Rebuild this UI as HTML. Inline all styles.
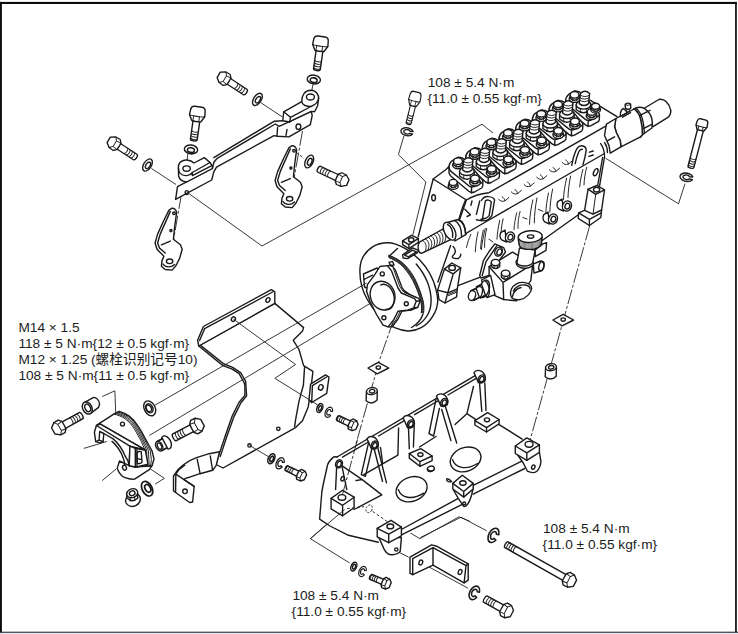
<!DOCTYPE html>
<html><head><meta charset="utf-8">
<style>
html,body{margin:0;padding:0;background:#fff;}
body{width:738px;height:634px;overflow:hidden;position:relative;font-family:"Liberation Sans","Noto Sans CJK SC",sans-serif;}
svg{position:absolute;left:0;top:0;}
.t{font-size:13.7px;fill:#1c1c1c;font-family:"Liberation Sans","Noto Sans CJK SC",sans-serif;}
.o{fill:none;stroke:#1a1a1a;stroke-width:1.4;stroke-linejoin:round;stroke-linecap:round;}
.w{fill:#fff;stroke:#1a1a1a;stroke-width:1.4;stroke-linejoin:round;stroke-linecap:round;}
.l{fill:none;stroke:#222;stroke-width:0.9;}
.d{fill:none;stroke:#222;stroke-width:0.9;stroke-dasharray:15 2 3 2;}
.h{fill:none;stroke:#1a1a1a;stroke-width:0.95;stroke-linecap:round;}
</style></head><body>
<svg width="738" height="634" viewBox="0 0 738 634">
<defs>
<!-- bolt: axis +x, origin at head back -->
<g id="bolt">
 <path class="w" d="M8,-3.6 L30,-3.6 A1.6,3.6 0 0 1 30,3.6 L8,3.6 Z"/>
 <path class="h" d="M19,-3.4 A1.5,3.5 0 0 1 19,3.4 M21.7,-3.4 A1.5,3.5 0 0 1 21.7,3.4 M24.4,-3.4 A1.5,3.5 0 0 1 24.4,3.4 M27.1,-3.4 A1.5,3.5 0 0 1 27.1,3.4"/>
 <path class="w" d="M1.5,-7 L6,-7.4 L8.5,-5 L9,0 L8.5,5 L6,7.4 L1.5,7 L0,3.5 L0,-3.5 Z"/>
 <path class="h" d="M2.6,-7 L4,-3.6 L4,3.6 L2.6,7 M6,-7.4 L7,-3.6 L7,3.6 L6,7.4"/>
</g>
<g id="boltv">
 <path class="w" d="M14,-3.4 L33,-3.4 A1.4,3.4 0 0 1 33,3.4 L14,3.4 Z"/>
 <path class="h" d="M24.5,-3.2 A1.4,3.3 0 0 1 24.5,3.2 M27,-3.2 A1.4,3.3 0 0 1 27,3.2 M29.5,-3.2 A1.4,3.3 0 0 1 29.5,3.2 M32,-3.2 A1.4,3.3 0 0 1 32,3.2"/>
 <path class="w" d="M3.5,-7.3 Q0,-7 0,-3.5 L0,3.5 Q0,7 3.5,7.3 L9,7.7 L14.5,4.6 Q15.5,0 14.5,-4.6 L9,-7.7 Z"/>
 <path class="h" d="M9,-7.7 Q10.2,-4 9.6,-2.5 L14.8,-2.4 M9.6,-2.5 Q10,0 9.6,3.5 L14.6,3.6 M9.6,3.5 Q9.8,6 9,7.7"/>
</g>
<g id="washer">
 <ellipse class="w" cx="0" cy="0" rx="3.8" ry="6.8"/>
 <ellipse class="o" cx="0.6" cy="0" rx="2" ry="3.6"/>
</g>
<!-- bolt with fuller head (seen more face-on) -->
<g id="boltf">
 <path class="w" d="M9,-3.6 L30,-3.6 A1.6,3.6 0 0 1 30,3.6 L9,3.6 Z"/>
 <path class="h" d="M19,-3.4 A1.5,3.5 0 0 1 19,3.4 M21.7,-3.4 A1.5,3.5 0 0 1 21.7,3.4 M24.4,-3.4 A1.5,3.5 0 0 1 24.4,3.4 M27.1,-3.4 A1.5,3.5 0 0 1 27.1,3.4"/>
 <path class="w" d="M3,-7 L8,-7.2 L10.6,-4.2 L10.8,0 L10.6,4.2 L8,7.2 L3,7 L-1.4,3.6 L-1.6,-3.4 Z"/>
 <path class="h" d="M3,-7 L5.6,-3.6 L5.8,3.6 L3,7 M5.6,-3.6 L10.6,-4.2 M5.8,3.6 L10.6,4.2"/>
</g>
<!-- small bolt -->
<g id="bolts">
 <path class="w" d="M6,-2.7 L20,-2.7 A1.2,2.7 0 0 1 20,2.7 L6,2.7 Z"/>
 <path class="h" d="M12.6,-2.6 A1.2,2.6 0 0 1 12.6,2.6 M14.8,-2.6 A1.2,2.6 0 0 1 14.8,2.6 M17,-2.6 A1.2,2.6 0 0 1 17,2.6 M19.2,-2.6 A1.2,2.6 0 0 1 19.2,2.6"/>
 <path class="w" d="M2,-5.4 L6,-5.6 L7.6,-3.4 L7.8,0 L7.6,3.4 L6,5.6 L2,5.4 L-0.8,2.8 L-0.9,-2.6 Z"/>
 <path class="h" d="M2,-5.4 L3.8,-2.8 L3.9,2.8 L2,5.4 M3.8,-2.8 L7.6,-3.4 M3.9,2.8 L7.6,3.4"/>
</g>
<!-- spring washer (C shape), axis +x -->
<g id="sw">
 <path class="w" d="M3.8,2.8 A4.2,6.6 0 1 1 3.8,-2.8 L1.8,-2.06 A2.2,3.6 0 1 0 1.8,2.06 Z" stroke-width="1.15"/>
</g>
<g id="swv">
 <path class="w" d="M1.44,-6.2 A4.2,6.6 0 1 1 -1.44,-6.2 L-1.1,-3.1 A2.2,3.6 0 1 0 1.1,-3.1 Z" stroke-width="1.15"/>
</g>
<!-- small flat washer -->
<g id="wsm">
 <ellipse class="w" cx="0" cy="0" rx="2.7" ry="4.6"/>
 <ellipse class="o" cx="0.3" cy="0" rx="1.4" ry="2.5"/>
</g>
<!-- spacer (vertical cylinder) origin at top-ellipse centre -->
<g id="spacer">
 <path class="w" d="M-5.4,0 L-5.8,9.6 Q0,14.4 5.2,9 L5.4,0 Z"/>
 <ellipse class="w" cx="0" cy="0" rx="5.4" ry="3.5" transform="rotate(-8)"/>
 <ellipse class="o" cx="0.2" cy="0.1" rx="2.7" ry="1.8" transform="rotate(-8)"/>
</g>
<!-- shim diamond -->
<g id="shim">
 <path class="w" d="M-10.3,1 L0,-4.7 L10.4,1 L-1.1,6.8 Z"/>
 <ellipse class="o" cx="0" cy="0.6" rx="2.2" ry="1.7"/>
</g>
</defs>
<!-- frame -->
<rect x="0" y="0" width="738" height="634" fill="#fff"/>
<rect x="0" y="632.6" width="738" height="1.4" fill="#e3e9f0"/>
<rect x="0" y="1.9" width="736.8" height="2.1" fill="#0c0c0c"/>
<rect x="0" y="1.9" width="1.9" height="630.5" fill="#0c0c0c"/>
<rect x="735.1" y="1.9" width="1.7" height="630.5" fill="#0c0c0c"/>
<rect x="0" y="631.7" width="738" height="1.1" fill="#2b303a"/>
<g id="partA">
<!-- leader lines -->
<path class="l" d="M151.5,168.5 L176,184.5 M186,191.5 L262,246 L482,124.2 L493,133 M260.5,102.5 L282.5,117"/>
<path class="d" d="M186.5,168 L188.5,146 M310.5,97 L313.5,82 M302.5,131 L290.5,198 M181.5,194 L170,260"/>
<path class="l" d="M296,152 L304,158.4" stroke-dasharray="3 2"/>
<!-- big bar bracket -->
<path class="w" d="M177.5,186.7 L212.4,168.5 L214,162 L217.2,158.3 L275.3,124 L279.2,126.4 L291.6,120.7 L311.2,111.4 L312.2,115.5 L310.3,124.7 L288.9,136.9 L277.4,136.2 L274,135.6 L216.5,167.1 L213.8,171.8 L211.7,180 L175.6,199.3 Z"/>
<path class="o" d="M213.8,157.6 L274,121.3 L282.8,120.7 M277.6,127.5 L277,135.8 M287,129.5 L286,135.5"/>
<ellipse class="o" cx="298.4" cy="126.7" rx="2.4" ry="2.7"/>
<ellipse class="o" cx="186.8" cy="192.6" rx="1.6" ry="2"/>
<!-- right block + boss -->
<path class="w" d="M283.7,111.8 L301.7,101.7 C301.5,95 305,90.5 310.6,90.3 C316,90.3 319,94.5 318.6,99 L317.6,105.7 L314.6,111.8 L311.2,111.4 L291.6,120.7 L289.6,122 L282.8,120.7 Z"/>
<path class="o" d="M283.7,111.8 L290.5,117.3 L289.6,122 M290.5,117.3 L311,106.5 C316,104.5 318.5,101 318.6,98 M301.7,101.7 C302.5,104.5 305.5,106.5 311,106.5"/>
<ellipse class="o" cx="310.4" cy="97" rx="4" ry="3"/>
<!-- left boss -->
<path class="w" d="M178.4,168 C178,162 183,159.6 187,160 C190,160.3 192.5,161.5 194,163 L204.3,157.6 L210,162.5 L212.4,166.2 L212.4,168.5 L186.5,182 C182,181.5 179.5,179.5 178.6,176 Z"/>
<path class="o" d="M210,162.5 L192.3,172.5 C190,176 183.5,177 180.2,173.4 C178.9,171.8 178.4,169.6 178.4,168 M192.3,172.5 L192.3,175.6 L211.8,165.6"/>
<ellipse class="o" cx="186.6" cy="168.6" rx="3.7" ry="2.7"/>
<!-- small brackets -->
<g id="sb">
<path class="w" d="M292.1,145.7 C294,145.5 296.3,147.5 296.6,150.2 L294.7,164 L293.4,176.7 L300.4,182.3 L302.2,186.8 L299.7,195.6 L295.9,203.2 L292.1,207.6 L285.2,207 L281.4,203.8 L282,198.1 L283.9,193.7 L277,186.8 L275.1,180.5 L277.6,171.6 L283.9,157.7 L289,147.6 Z"/>
<path class="o" d="M290.3,148.9 L280.2,171.6 L277.6,180.5 L279.5,185.5 L285.2,190.6 M281.4,182.3 L290.3,178.6 M283,201.5 C285,205 291,205.5 294.5,202"/>
<circle class="o" cx="294" cy="150.8" r="1.3"/><circle class="o" cx="290.9" cy="168.1" r="1.1"/>
<ellipse class="o" cx="289.6" cy="198.8" rx="3.2" ry="2.3"/>
</g>
<use href="#sb" transform="translate(-120,62.5)"/>
<!-- bolts & washers -->
<use href="#boltf" transform="translate(220,75.6) rotate(33) scale(1,0.9)"/>
<use href="#washer" transform="translate(257.4,99.4) rotate(33)"/>
<use href="#boltf" transform="translate(110,140.6) rotate(33) scale(1,0.9)"/>
<use href="#washer" transform="translate(147.5,165) rotate(33)"/>
<use href="#boltf" transform="translate(346.4,182) rotate(205) scale(1,0.9)"/>
<use href="#washer" transform="translate(309.2,161.5) rotate(25)"/>
<use href="#boltv" transform="translate(198.4,106.8) rotate(98)"/>
<use href="#washer" transform="translate(191,149.4) rotate(98) scale(1.15,0.98)"/>
<use href="#boltv" transform="translate(321.5,36.5) rotate(98)"/>
<use href="#washer" transform="translate(313.8,79.5) rotate(98) scale(1.15,0.98)"/>
</g>

<g id="cover">
<!-- main plate -->
<path class="w" d="M198.8,346 L274.8,303.4 L303.6,327.6 L302.5,331.1 L293.3,340.3 L299,349.5 L303.6,365.6 L312.9,371.4 L310.6,391.9 L308.2,406.9 L302.5,420.7 L295.6,427.6 L223,468 L216.1,464.5 L218.4,456.4 L225.3,435.7 L232.2,416.1 L239.1,402.3 L244.9,395.4 L244.9,385 L243.7,381.8 L239.1,373.7 L232.2,369.1 L223,365.6 Z"/>
<path class="o" d="M200.8,345.6 L224,364 L232.6,367.4 L240.6,372.6 L245.6,381 L246.6,395.8 L240.8,403 L234,416.6 L227,436 L220.2,456.6 M304.6,366.6 L303.4,385 L299,401.1 L295.6,419.6 L294.6,426.6"/>
<!-- top flange -->
<path class="w" d="M203.4,326.5 L271.4,289.6 L274.8,291.9 L274.8,303.4 L198.8,346 L197.6,340.3 Z"/>
<path class="o" d="M204.6,328.7 L272.6,292 M204.6,328.7 L199.6,340.6"/>
<ellipse class="o" cx="233.4" cy="319.1" rx="1.9" ry="2.4" transform="rotate(30 233.4 319.1)"/>
<ellipse class="o" cx="267.9" cy="300" rx="1.9" ry="2.4" transform="rotate(30 267.9 300)"/>
<circle class="o" cx="278.3" cy="428.8" r="1.7"/><circle class="o" cx="249.5" cy="445.4" r="1.7"/>
<!-- tab -->
<path class="w" d="M310.6,384.1 L325.5,374.9 L329,377.2 L326.7,393.3 L311.7,402.5 L309,400 Z"/>
<path class="o" d="M312.4,385.6 L311.7,402.5 M312.4,385.6 L326.6,377"/>
<ellipse class="o" cx="320.8" cy="387.4" rx="2.2" ry="2.8" transform="rotate(25 320.8 387.4)"/>
<!-- strap foot -->
<path class="w" d="M219.5,451.8 L209.2,453.7 L196.5,457.6 C191,459.6 187,462 183.8,464.5 C180,467.5 177,470.5 175.8,472.6 L173.5,476 L173.5,491 L189.6,502.5 L192.6,502 L194.2,486.4 L183.8,479.5 C185,478.4 187,477.6 189.6,477.2 L200,473.7 L212.6,470.3 L216.1,465.6 Z"/>
<path class="o" d="M175.8,474.2 L194.2,486.4 M175.8,474.2 L175.6,492.4 M197.2,459.2 L200,473.2 M210.3,456 L212.6,470.3 M175.8,474.2 C178,470.4 181,467.4 184.8,465.2"/>
<circle class="o" cx="185" cy="491.3" r="2.3"/>
</g>
<g id="pump">
<!-- pump body silhouette -->
<path fill="#fff" stroke="none" d="M433.2,179 L446,169.5 L456,158 L574,92 L592,99 L600,107 L616.4,118 L606.6,125.6 L607,128 L604.6,156.5 L599.2,188 L597,206 L578,215 L548,237 L500,272 L479.6,277.3 L458.6,285.4 L440,290 L424,262 L418.3,236.2 Z"/>
<!-- left end face + top face edges -->
<path class="o" d="M433.2,179 L466.4,200 M433.2,179 L418.3,236.2 M466.4,200 L459.6,219.6 M466.4,200 C472,196.5 482,193.5 489,192.7 L606.6,125.6"/>
<ellipse class="o" cx="433.6" cy="197.7" rx="1.9" ry="3"/>
<!-- ledge line -->
<path class="o" d="M461,236.4 L480.3,225 L604.5,153.5"/>
<!-- right edge -->
<path class="o" d="M604.6,156.5 L599.4,187 M602.6,157.5 L597.6,186"/>
<!-- bottom edge -->
<path class="o" d="M578,215 L541.5,241"/>
<path class="o" d="M433.2,179 L446,169.5 L452,163.4"/>

<!--UNITS-->
<g id="unit" transform="translate(116.6,-66.4)"><path class="w" d="M449,167.3 L449,172.8 Q449.6,175 451,176.3 L468.8,191.3 Q471.4,193.2 474.5,192 L481.6,188 Q482.8,187 482.8,185 L482.8,180.3 L466,160.5 Q462,157 458,157.3 L452,160.8 Q449,163.5 449,167.3 Z"/><path class="o" d="M449,167.3 Q449.4,170.2 451,171.4 L468.8,185.8 Q471.6,187.6 474.5,186.4 L481.6,182.8 Q483,181.6 482.8,180.3 M471.6,187.4 L471.4,193"/><ellipse class="w" cx="458" cy="165.1" rx="5.4" ry="3.7"/><path class="w" d="M453.6,161.3 L453.6,164.7 Q458.0,168.7 462.4,164.7 L462.4,161.3 Z"/><ellipse class="w" cx="458" cy="161.2" rx="4.4" ry="3.3"/><path class="h" d="M456.2,164.4 L456.2,167.1 M460.2,164.2 L460.2,166.9"/><path class="w" d="M459.6,171.2 L459.6,176 Q466.9,182.5 474.2,176 L474.2,171.2 Z"/><ellipse class="w" cx="466.9" cy="171.2" rx="7.3" ry="4.3"/><path class="h" d="M463.8,175 L463.8,179 M470.2,175 L470.2,178.8"/><path class="w" d="M462.6,170 L463.8,160 Q468.4,155.5 473,160 L472,170 Q467.3,174 462.6,170 Z"/><path class="h" d="M463.7,161.5 Q468.3,164.6 472.9,161.5 M463.4,164 Q468,167.2 472.6,164 M463.1,166.6 Q467.7,169.8 472.3,166.6"/><ellipse class="w" cx="475" cy="182.2" rx="5.4" ry="3.7"/><path class="w" d="M470.6,178.4 L470.6,181.8 Q475.0,185.8 479.4,181.8 L479.4,178.4 Z"/><ellipse class="w" cx="475" cy="178.3" rx="4.4" ry="3.3"/><path class="h" d="M473.2,181.5 L473.2,184.2 M477.2,181.3 L477.2,184.0"/></g>
<use href="#unit" transform="translate(-16.64,9.46)"/>
<use href="#unit" transform="translate(-33.30,18.95)"/>
<use href="#unit" transform="translate(-49.96,28.44)"/>
<use href="#unit" transform="translate(-66.62,37.93)"/>
<use href="#unit" transform="translate(-83.28,47.42)"/>
<use href="#unit" transform="translate(-99.94,56.91)"/>
<use href="#unit" transform="translate(-116.60,66.40)"/>
<!-- hex plug -->
<ellipse class="w" cx="453.2" cy="186.0" rx="5.0" ry="3.4"/><path class="w" d="M449.2,182.5 L449.2,185.6 Q453.2,189.3 457.2,185.6 L457.2,182.5 Z"/><ellipse class="w" cx="453.2" cy="182.4" rx="4.0" ry="3.0"/><path class="h" d="M451.5,185.3 L451.5,187.8 M455.2,185.2 L455.2,187.6"/>
<!-- right end cylinder -->
<g id="cyl">
<path class="w" d="M643,109 L658.8,99.5 C664,98 669,103 670.8,110.3 C671,113 670,115.5 668.3,117.2 L653.1,126.7 Z"/>
<path class="w" d="M633.6,109.2 C637,107 641,106.6 644.3,108.4 C648,111 651,115 651.9,119 C652.6,122.5 652.5,125.5 651.9,128 L642.4,134.8 L640.5,137.3 L637,137.5 Z"/>
<path class="o" d="M634.2,109 C637.5,111.5 639.5,115 640.5,119 C641.8,124 642.6,129.5 642.4,134.8 M635.8,108.2 C639,110.5 641.2,114.5 642.3,118.6 C643.5,123.5 644.4,129 644.2,133.6 M639.9,115.3 L650,110.3 M643.4,128.6 L652.3,124.1"/>
<path class="w" d="M615.9,118.5 L634.2,109 C637.5,111.5 639.5,115 640.5,119 C641.8,124 642.6,129.5 642.4,134.8 L640.5,136.8 L620.9,146.9 L620.3,140.6 L616.5,133 L614.6,126.7 Z"/>
<path class="w" d="M606.4,124.1 L615.9,118.5 L614.6,126.7 L616.5,133 L620.3,140.6 L620.9,146.9 L610.2,153.2 L609,145.6 L604.5,135.5 Z"/>
<path class="o" d="M607.7,140.6 L614.6,136.8"/>
<!-- clamp screw -->
<path class="o" d="M620.3,116.6 C620,112 621.5,109.5 623.5,108.5 L627,112 M621.5,116 L629,111.5 M622.5,117.2 L630.5,112.6"/>
<path class="w" d="M625.2,104.2 L625.4,108.4 Q628,110.2 630.8,108.2 L630.6,104 Q628,102.2 625.2,104.2 Z"/>
<path class="h" d="M625.2,104.6 Q628,106.6 630.6,104.4 M626.8,109.4 L626.6,112 M629.6,109.2 L629.4,111"/>
</g>
<!-- top face right edge -->
<path class="o" d="M590,100.2 L617,116.6"/>
<ellipse class="w" cx="595.6" cy="109.7" rx="4.9" ry="3.3"/><path class="w" d="M591.6,106.3 L591.6,109.4 Q595.6,113.0 599.6,109.4 L599.6,106.3 Z"/><ellipse class="w" cx="595.6" cy="106.2" rx="4.0" ry="3.0"/><path class="h" d="M594.0,109.1 L594.0,111.5 M597.6,108.9 L597.6,111.4"/>
<!-- > marks -->
<g id="gt"><path class="h" d="M498.6,199.2 C500.4,201.4 502.6,201.8 505,200.8 L508.8,197.6 M505,200.8 C504.6,199 503.6,197.6 502.2,196.8" stroke-width="1.05"/></g>
<use href="#gt" transform="translate(12.7,-7.3)"/><use href="#gt" transform="translate(25.4,-14.7)"/><use href="#gt" transform="translate(38.1,-22.0)"/><use href="#gt" transform="translate(50.8,-29.4)"/><use href="#gt" transform="translate(63.5,-36.8)"/>
<!-- finger boss on upper band -->
<path class="o" d="M571.7,165.3 C572.6,160 574,155 575.5,151.4 C577,147.6 579.4,145.6 581.8,145.7 C584.6,146 586.2,148 586.2,150.1 C585.6,155 584.4,160 583,164.6 M575.2,163.6 C576,159.4 577.2,155.4 578.6,152.2 C579.6,150 581,149 582.4,149.4 M589.4,152.2 L593.2,151 M588.8,156.4 L593.2,155 M600.6,143.6 C603,146.6 604.2,150.6 604.5,155.2 M604.6,142.6 C606.6,145.6 607.6,149 607.4,152.6"/>
<!-- oblong boss -->
<path class="o" d="M481.4,200.5 C483,197.6 485.6,196.2 488.6,196.6 C491.6,196.8 494,198 494.6,199.9 L491.9,215.4 C490,218.6 487,220.6 484.2,220.9 L480.8,219.2 M485.3,201 C487,199.4 490,199.8 491.3,202.1 L489.1,215.9 C487.4,217.8 485,218.8 482.5,218.7 L485.3,201 M479.7,201 L476.4,214.3 M476.4,219.8 L481.9,220.9 M472,201 L470.9,205.4 M464.8,209.3 L470.4,214.8 L467,216.5"/>
<path class="o" d="M465.9,199.4 C464,203.6 462.2,208 461,212.1 L458.2,222"/>
<path class="h" d="M485.3,228.6 C483.4,235.6 482,242.6 481.4,249.6 M470.9,234.2 C469,238.6 467.4,243 466.5,247.4 M478.1,231.9 C476.6,238 475.6,245 475.3,251.8"/>
<!-- ribs -->
<g id="rib"><path class="h" d="M499.7,220.4 C498.3,227 497.2,233 497,239.2 M503.1,218.9 C501.6,225 500.8,231 501,237.8"/></g>
<use href="#rib" transform="translate(-16.4,9.6)"/><use href="#rib" transform="translate(17,-7.6) scale(1,0.9)" style="transform-origin:499px 220px"/>
<path class="h" d="M532.9,199.9 C531,208 529.8,216 529.5,224.3 M537,197.9 C535.4,206 534.4,214 534.3,222.9 M548.5,193.1 C547,200 546,207 545.8,213.5 M552.6,189.1 C551,197 550,205 549.9,212.1 M566.6,178.2 C565,185 563.8,192 563.4,199.9 M570.6,176 C569.2,183 568.2,190 568,197.5 M582.9,169.5 C581.4,175 580.2,181 579.7,186.9 M586.6,167.4 C585.2,173 584.2,179 584,185"/>
<path class="h" d="M522.8,217.5 L527,219 M538.4,209.4 L543,211.4 M488.9,239.2 L493,242"/>
<!-- bosses -->
<g id="boss"><path class="w" d="M505,230 L500.8,232.6 C499.6,235 500,238 501.6,239.8 L506.6,242 Z"/><ellipse class="w" cx="510" cy="237" rx="4.4" ry="5.2" transform="rotate(25 510 237)"/><ellipse class="o" cx="510.4" cy="237.2" rx="2.3" ry="2.9" transform="rotate(25 510.4 237.2)"/></g>
<use href="#boss" transform="translate(43,-18)"/><use href="#boss" transform="translate(57,-31)"/>
<!-- right lug -->
<path class="w" d="M588.1,189.2 L596.9,185.5 L604.5,189.9 L601.6,210 L601.3,212.9 L600.8,217.5 L589.4,225.5 L578.2,218.4 L578.6,212.9 L584.6,210.4 Z"/>
<path class="o" d="M588.1,189.2 L595.7,194.3 L604.5,189.9 M584.6,210.4 L593,214.2 L601.6,210 M578.6,212.9 L589.4,219.4 L601.3,212.9 M589.4,219.4 L589.4,225.5"/>
<path class="h" d="M595.7,194.3 L593,214.2"/>
<ellipse class="o" cx="596.6" cy="189.7" rx="3.1" ry="2.3"/>
<ellipse class="o" cx="595.7" cy="172.2" rx="1.9" ry="3.8" transform="rotate(25 595.7 172.2)"/>
<!-- coupling disc -->
<path class="w" d="M386,242.8 C393,242.2 399,245 404.6,248.2 C410,251.5 415,255.5 419.5,259.8 C423.5,264 427,268.5 429.5,273 C432.5,278.5 434.8,284 436,289.6 C437,293.5 437.8,297.5 437.7,301.2 C437.5,306.5 435.8,311.5 432.8,316.1 C430,320.8 426,325 421.2,327.7 C417,330 412.5,331.2 408,331 C403.5,330.8 399,329.6 394.7,327.7 C385,323 374,312 367,299 C362,290 359.4,278 360,268.1 C360.6,259 366,251 373,246.6 C377,244.2 381.5,243.2 386,242.8 Z"/>
<!-- outer cylinder surface line -->
<path class="o" d="M416.2,264 C421,269.5 425,276 427.8,283 C430,289 431.2,295 431.1,301.2 C431,306 430,310.5 427.8,314.5 C425,319.5 421,323.5 416.2,326"/>
<!-- teeth band -->
<path d="M388.9,256.5 C395,258.6 400.5,262 404.6,266.5 C409.5,272 413.5,278 416.2,284.7 C418.6,290 420.6,295.5 422,301.2 C422.8,305 423,309 422.4,313" fill="none" stroke="#3c3c3c" stroke-width="2.5"/>
<path class="h" d="M388.5,255.2 C395.5,257.4 401,261 405.6,265.6 C410.5,271 414.5,277 417.3,284 C419.7,289.5 421.7,295 423.2,301 C424,305 424.2,309 423.6,313 M389.4,257.8 C394.5,259.8 399.6,263 403.6,267.4 C408.5,273 412.5,279 415.1,285.4 C417.5,290.5 419.5,296 420.8,301.4 C421.6,305 421.8,309 421.2,313"/>
<!-- inner arc on front face -->
<path class="o" d="M423,314 C421,320 417,324.5 411.5,327.5 M388.9,256.5 L397.5,248.5 M400.5,288 C405,291 409,293.5 414.6,298.7"/>
<!-- back flange layer -->
<path class="w" d="M363.5,274 L377,268 L381,273 L371,290 L364.5,287 Z"/>
<path class="o" d="M364,279.5 L372.5,275.2 M366.5,291 L371,295.5"/>
<!-- flange thickness -->
<path class="w" d="M387.3,265.6 L391.6,265.2 L395.4,270.2 L402,287.6 L405.3,292.6 L418.6,298.3 L420.2,300.8 L417.7,307.4 L411.1,310.1 L402,311 L397.9,319.2 L392.1,326.7 L388.1,326.9 Z"/>
<path class="o" d="M416.2,301.2 L420.2,300.8 M413.7,307.8 L417.7,307.4 M407.1,310.3 L411.1,310.1"/>
<path class="h" d="M393.4,268.6 L399.8,286.6 L403.2,291.6 L416.6,297.6 M400,311.6 L396,319.6 L390.4,327"/>
<!-- flange face -->
<path class="w" d="M379.8,266.5 L387.3,265.6 L391.4,270.6 L398,288 L401.3,293 L414.6,298.7 L416.2,301.2 L413.7,307.8 L407.1,310.3 L398,311.2 L393.9,319.4 L388.1,326.9 L383.1,325.2 L376.5,314.5 L369.9,301.2 L366.6,291.3 L367.4,284.7 L374.8,274.7 Z"/>
<ellipse class="o" cx="382.6" cy="295.6" rx="12.2" ry="14.6" transform="rotate(-18 382.6 295.6)"/>
<path class="o" d="M380.6,285 C384,283.2 388.6,285 391.4,289.4 C394.4,294.5 395,301 392.8,305.6 C391.2,308.6 388.4,310 385.6,309.4"/>
<circle class="o" cx="382.3" cy="273.9" r="2"/><circle class="o" cx="383.9" cy="317.8" r="2"/><circle class="o" cx="406.3" cy="303.7" r="2"/>
<!-- small stud on top of flange -->
<path class="o" d="M389,262.4 L392.6,261.4 L394,265 L391,266 Z"/>
<!-- left foot -->
<path class="w" d="M444.4,269.1 L451.8,263 L460.7,267.8 L457.3,288.8 L456.6,296.9 L445,303 L439,299.6 L437.6,290.1 Z"/>
<path class="o" d="M444.4,269.1 L453.2,273.9 L460.7,267.8 M453.2,273.9 L447.8,292.8 L445,303 M437.6,290.1 L447.8,292.8 L457.3,288.8"/>
<path class="h" d="M448.6,294.2 L456.6,290.8 M448.4,295.6 L456.6,292.2"/>
<ellipse class="o" cx="452.1" cy="267.9" rx="3.3" ry="2.5"/>
<path class="o" d="M458.6,285.4 L479.6,277.3"/>
<!-- squiggle / edges -->
<path class="o" d="M450.6,245.4 L437.9,282 M453.1,246.6 C455.5,249 456,252 454,254.5 C451,257 452,258.5 458.1,258.6 C460,257.5 461,256 460.7,254.2"/>
<!-- cylinder behind collar -->
<path class="w" d="M449,222 L458.1,219.5 C462,221 465.5,226 465.7,234.6 L455,241 Z"/>
<path class="o" d="M458.1,219.5 C462,221 465.5,226 465.7,234.6 M454.5,220.4 C458.5,222.5 461.6,228 461.6,236.6"/>
<!-- spring -->
<path class="w" d="M420.3,241.6 L443,229 L450.6,239.7 L421.5,253.4 C418,253 416.6,245 420.3,241.6 Z"/>
<path class="h" d="M422.6,240.4 C426.6,242.6 427.4,248.6 424.6,252 M425.4,238.8 C429.4,241 430.2,247 427.4,250.6 M428.2,237.3 C432.2,239.5 433,245.5 430.2,249.3 M431,235.7 C435,237.9 435.8,243.9 433,248 M433.8,234.2 C437.8,236.4 438.6,242.4 435.8,246.7 M436.6,232.6 C440.6,234.8 441.4,240.8 438.6,245.4 M439.4,231.1 C443.4,233.3 444.2,239.3 441.4,244.1 M442.2,229.5 C446.2,231.7 447,237.7 444.2,242.8"/>
<!-- collar -->
<ellipse class="w" cx="449.6" cy="231.2" rx="5.2" ry="9.6" transform="rotate(-27 449.6 231.2)"/>
<path class="o" d="M447.5,224.5 C451,226 453.5,231 452.6,237.4"/>
<!-- lug with hole + pointer -->
<path class="w" d="M402.6,240.9 L411.4,235.3 L418.4,238.4 L418.4,242.4 L408.9,248.6 L402.6,244.6 Z"/>
<path class="o" d="M402.6,240.9 L408.9,244.7 L418.4,238.4 M408.9,244.7 L408.9,248.6"/>
<ellipse class="o" cx="411.2" cy="239.9" rx="2.7" ry="2.1"/>
<path class="w" d="M402.6,254.8 L412.7,247.9 L418.4,250.4 L417.6,252.6 L407.6,258.6 L403.2,258 Z"/>
<path class="o" d="M404.6,255.2 L412.6,250.2 L416.4,251.8 L408.4,256.8 Z"/>
<!-- feed pump -->
<!-- gasket plate -->
<path class="w" d="M494.8,243.9 L503.7,247.7 L505.5,252 L498,262 L489.1,275.5 L480.9,278 L479.7,275.5 L483.5,260.4 L489.1,251.5 Z"/>
<path class="o" d="M496.7,245.8 L491.7,253.4 L486,261.6 L482.2,275.5"/>
<ellipse class="w" cx="498.6" cy="251.6" rx="3.6" ry="4.6" transform="rotate(25 498.6 251.6)"/>
<ellipse class="o" cx="499.4" cy="252" rx="2.3" ry="3.2" transform="rotate(25 499.4 252)"/>
<!-- bracket behind knob -->
<path class="w" d="M535.2,250 L542.8,243.9 L546.6,242.7 L546,250.3 L535.2,256.6 Z"/>
<!-- block -->
<path class="w" d="M489.1,266.7 L512.5,252.1 L532.7,264.1 L530.8,280.6 L516.3,300.8 L503.7,299.5 L494.8,295.7 L489.1,290 Z"/>
<path class="o" d="M489.1,266.7 L503,282.4 L532.7,264.1 M503,282.4 L503.7,299.5"/>
<!-- pipe stub right -->
<path class="w" d="M533.3,264.1 L540.3,261 C543,261.5 544.2,264 544,266.5 C543.8,268.8 543,270 542.2,270.5 L534,273 Z"/>
<ellipse class="o" cx="541.4" cy="266" rx="2.4" ry="4.8" transform="rotate(15 541.4 266)"/>
<!-- round cap -->
<path class="w" d="M511.2,289.5 C513,284.5 519,281.5 525,282.6 C529.5,283.6 531.8,286 531.6,288.6 C531,293 526,298.6 520,299.6 C515,300.2 511,298.5 510.6,295 C510.4,293 510.6,291 511.2,289.5 Z"/>
<path class="o" d="M513.4,291 C515.4,286.6 520.4,284.2 525.4,285 C528.4,285.6 530,287 530,288.8 M512.4,296.5 C513.6,292 517,288.5 521,287.5"/>
<!-- left plug -->
<path class="w" d="M481.6,280 L490.6,275.4 L495,294.6 L487,297.6 Z"/>
<ellipse class="w" cx="484.4" cy="288.8" rx="4.7" ry="8.9" transform="rotate(16 484.4 288.8)"/>
<path class="o" d="M484.6,280.4 C487.4,282.4 489.4,287 489.4,291.6 C489.4,294.4 488.6,296.4 487.4,297.4"/>
<path class="w" d="M476.4,287 L481.6,284.4 L485.4,295 L480.6,297.8 Z" stroke="none"/>
<path class="o" d="M476.8,286.8 L481.4,284.4 M480.8,297.8 L485,295.4"/>
<ellipse class="w" cx="478.6" cy="292.3" rx="3.7" ry="5.9" transform="rotate(16 478.6 292.3)"/>
<path class="w" d="M470.6,291 L476.2,288.4 L479.4,297.4 L473.6,300.4 Z" stroke="none"/>
<path class="o" d="M471,290.8 L476,288.4 M473.8,300.4 L479,297.6"/>
<ellipse class="w" cx="472" cy="295.6" rx="3.5" ry="5" transform="rotate(16 472 295.6)"/>
<!-- bolts on top -->
<g id="hb"><path class="w" d="M491.3,262.6 L491.3,266.6 Q495.5,270.6 499.7,266.6 L499.7,262.6 Z"/><ellipse class="w" cx="495.5" cy="262.6" rx="4.2" ry="3.2"/><path class="h" d="M494,265.6 L494,268.6 M497.6,265.4 L497.6,268.2"/></g>
<use href="#hb" transform="translate(10.1,10.7)"/>
<!-- priming pump -->
<path class="w" d="M516,262 C516,259.5 520,258 524.5,258.2 C529.5,258.4 533.4,260.4 533.4,263 C533.4,266.4 529.4,268.4 524.4,268.2 C519.4,268 516,265.5 516,262 Z"/>
<path class="w" d="M519.5,248 L516.9,262.9 C519,266.6 529,267.4 532.7,262.9 L535.2,250 Z"/>
<path class="w" d="M518.2,238.9 L519.5,245.8 C523,250.6 537,251 541,244.6 L542.2,237.6 Z"/>
<ellipse class="w" cx="530.2" cy="236.6" rx="12" ry="5.8" transform="rotate(-4 530.2 236.6)"/>
<ellipse class="o" cx="530.6" cy="236.6" rx="3.2" ry="1.7"/>
<path d="M518.8,238.7 L518.6,245.0 M519.9,239.9 L519.7,246.2 M521.1,240.7 L520.9,247.0 M522.2,241.2 L522.1,247.5 M523.4,241.7 L523.3,248.0 M524.5,242.0 L524.4,248.3 M525.7,242.3 L525.6,248.6 M526.8,242.5 L526.8,248.8 M528.0,242.6 L528.0,248.9 M529.1,242.7 L529.1,249.0 M530.3,242.7 L530.3,249.0 M531.4,242.7 L531.5,249.0 M532.6,242.6 L532.6,248.9 M533.7,242.4 L533.8,248.7 M534.9,242.2 L535.0,248.5 M536.0,242.0 L536.2,248.3 M537.2,241.6 L537.3,247.9 M538.3,241.2 L538.5,247.5 M539.5,240.6 L539.7,246.9 M540.6,239.8 L540.9,246.1 M541.8,238.4 L542.0,244.7" fill="none" stroke="#222" stroke-width="0.55"/>

</g><g id="leaders">
<!-- long lines from coupling to left bracket -->
<path class="l" d="M366.6,283 L155,405.2 M371.5,302.6 L149.4,435.4"/>
<!-- pump bolt leader -->
<path class="l" d="M403.9,136 L398.4,154.6 L425.9,182 L412.7,235.5"/>
<!-- right long bolt leader -->
<path class="l" d="M605.6,158.2 L678.5,203.8 L685,183.6"/>
<!-- cover hole Z leader -->
<path class="l" d="M233.4,319.1 L295.6,364.5 L274.8,378.3 L317.5,404.8 M249.5,445.4 L268,456.4"/>
<!-- dash-dot centerlines -->
<path class="d" d="M393.9,319.4 L379.5,360 L343.8,487.6 M589.6,226 L557.9,340 L529.1,443.7"/>
<!-- base leaders -->
<path class="l" d="M343.8,508.8 L310.4,538.7 L349.5,562.9 M470,521.4 L459,516.8 L419.8,538.7 L404.8,529.5 M420.3,537.6 L461,517.2 L486.7,530.8 M395,550.3 L408.6,557.1 M421,562.6 L468.2,588.3"/>
<path class="l" d="M346,507.6 L388.7,522.6" stroke-dasharray="3 2"/>
<!-- part D leaders -->
<path class="l" d="M102.2,396.5 L114.9,390.8 L116,421 M83.8,448.4 L106.8,441.5 M102.2,480.6 L116,469.1 M150.6,469.1 L164.4,478.3 L155.2,484.1"/>
</g>
<g id="base">
<path fill="#fff" stroke="none" d="M332.9,457.6 L339.4,456.8 L481,372 L486,378 L486,412 L499.1,419.5 L527,438 L539.4,444.8 L540.9,461.7 L536.9,471.2 L527.4,471.2 L473.2,494.2 L463.7,506.4 L401.4,537.6 L400.2,551.4 L392.2,554.8 L384.1,549.1 L378.3,542.2 L348.4,535.3 L330,526 L319.6,519.1 L321.9,491.5 L326.5,468.4 Z"/>
<path class="o" d="M337,457 C335,456.6 333.5,456.8 332.9,457.6 C329.5,460.5 327.6,464 327.2,466.5 L323.1,485 L321.9,491.5 L319.6,519.1 L330,526 L348.4,535.3 L378.3,542.2"/>
<path class="o" d="M337.0,457.0 L476.0,375.1 M342.5,457.2 L370.0,441.0 M378.5,436.0 L406.0,419.7 M414.6,414.7 L439.5,400.0 M448.0,395.0 L477.0,377.9"/>
<path class="o" d="M363.8,474.7 L397.9,455.2 L398.6,428 M382.5,462.5 L380.5,447.5 M419.5,447 L436,436.5 M455,424.5 L466.9,413.7 L473.5,386.5 M466.9,413.7 L476,419.6"/>
<path class="o" d="M341.8,465.7 L362.2,479.6 L381.8,494.9 L354,509.5 M356,480.5 L362.2,479.6"/>
<path class="w" d="M367.0,438.9 C368.8,435.9 372.8,435.8 375.8,438.4 C378.3,440.9 378.8,444.4 377.8,447.4 L371.4,448.8 L368.8,442.8 Z"/>
<path class="w" d="M403.1,417.8 C404.9,414.8 408.9,414.7 411.9,417.3 C414.4,419.8 414.9,423.3 413.9,426.3 L407.5,427.7 L404.9,421.7 Z"/>
<path class="w" d="M436.5,396.2 C438.3,393.2 442.3,393.1 445.3,395.7 C447.8,398.2 448.3,401.7 447.3,404.7 L440.9,406.1 L438.3,400.1 Z"/>
<path class="w" d="M474.0,372.7 C475.8,369.7 479.8,369.6 482.8,372.2 C485.3,374.7 485.8,378.2 484.8,381.2 L478.4,382.6 L475.8,376.6 Z"/>
<ellipse class="o" cx="339.1" cy="464.1" rx="2" ry="2.9" transform="rotate(25 339.1 464.1)"/>
<ellipse class="o" cx="338.90000000000003" cy="463.90000000000003" rx="3.3" ry="4.2" transform="rotate(25 339.1 464.1)"/>
<ellipse class="o" cx="374.8" cy="445.4" rx="2" ry="2.9" transform="rotate(25 374.8 445.4)"/>
<ellipse class="o" cx="374.6" cy="445.2" rx="3.3" ry="4.2" transform="rotate(25 374.8 445.4)"/>
<ellipse class="o" cx="410.9" cy="424.3" rx="2" ry="2.9" transform="rotate(25 410.9 424.3)"/>
<ellipse class="o" cx="410.7" cy="424.1" rx="3.3" ry="4.2" transform="rotate(25 410.9 424.3)"/>
<ellipse class="o" cx="444.3" cy="402.7" rx="2" ry="2.9" transform="rotate(25 444.3 402.7)"/>
<ellipse class="o" cx="444.1" cy="402.5" rx="3.3" ry="4.2" transform="rotate(25 444.3 402.7)"/>
<ellipse class="o" cx="481.8" cy="379.2" rx="2" ry="2.9" transform="rotate(25 481.8 379.2)"/>
<ellipse class="o" cx="481.6" cy="379.0" rx="3.3" ry="4.2" transform="rotate(25 481.8 379.2)"/>
<path class="o" d="M336.6,467.6 L335.6,489.5 M342.2,467.4 L346.8,489.6"/>
<ellipse class="o" cx="342.6" cy="478.7" rx="1.6" ry="2.3" transform="rotate(20 342.6 478.7)"/>
<path class="o" d="M368.7,442.2 L361.3,474.7 M371.9,448.7 L365.4,476.3 L361.3,474.7 M374.3,449.5 L382.5,481.2 M377.6,447 L386.5,482.8"/>
<path class="o" d="M436,399.2 L429,433.7 M439.4,408.4 L433.6,436 L429,433.7 M441.7,409.5 L450.9,440.6 M445.2,406 L456.7,443"/>
<path class="o" d="M408.5,428.3 L409.3,448.7 M414.2,426.7 L413.4,447 M479.5,382.6 L481.8,411.4 M484.8,383 L486,410.5"/>
<path class="w" d="M409.3,453.5 L420.7,448.7 L432.1,456 L432.1,460.6 L419.9,466.3 L409.3,458.1 Z"/><path class="o" d="M409.3,453.5 L419.9,461.7 L432.1,456 M419.9,461.7 L419.9,466.3"/><ellipse class="o" cx="420.4" cy="454.6" rx="2.6" ry="1.9"/>
<path class="w" d="M474.9,420.6 L487.6,412.6 L499.1,419.5 L499.1,423.9 L486.5,432.0 L474.9,425.0 Z"/><path class="o" d="M474.9,420.6 L486.5,427.6 L499.1,419.5 M486.5,427.6 L486.5,432.0"/><ellipse class="o" cx="487" cy="419.8" rx="2.6" ry="1.9"/>
<ellipse class="o" cx="465.6" cy="459.4" rx="15.8" ry="11.8" transform="rotate(-22 465.6 459.4)"/>
<path class="o" d="M452.6,459.6 C455,468 466,470.5 477.5,463.5"/>
<ellipse class="o" cx="411.6" cy="489.2" rx="16" ry="12" transform="rotate(-22 411.6 489.2)"/>
<path class="o" d="M398.4,489.6 C401,498 412,500.5 423.8,493.2"/>
<ellipse class="o" cx="430.8" cy="468.8" rx="3.6" ry="2.6" transform="rotate(-20 430.8 468.8)"/>
<path class="o" d="M428,469.6 C429.4,471.4 432,471.4 433.8,470"/>
<path class="o" d="M499.1,424.6 L522.2,439.1"/>
<path class="o" d="M401.4,529.5 L458.3,498.3 M402,534.6 L463.7,503.7 M471.8,486.1 L523.3,460.3 M473.2,494.2 L524.7,468.5"/>
<path class="w" d="M331.1,498.4 L342.6,490.3 L354.1,497.2 L354.1,507.7 L342.6,515.8 L331.1,508.9 Z"/><path class="o" d="M331.1,498.4 L342.6,505.3 L354.1,497.2 M342.6,505.3 L342.6,515.8"/><ellipse class="o" cx="341.9" cy="497.4" rx="3.8" ry="2.8"/>
<path class="w" d="M378.6,537 L384.1,549.1 C386,553 389,555 392.2,554.8 C396,554.6 399,553 400.2,551.4 L401.4,537.6 Z"/>
<circle class="o" cx="396.3" cy="549.5" r="1.6"/>
<path class="w" d="M377.2,528.3 L391,520.3 L401.4,527.2 L401.4,535.8000000000001 L388.7,542.7 L377.2,536.9 Z"/><path class="o" d="M377.2,528.3 L388.7,534.1 L401.4,527.2 M388.7,534.1 L388.7,542.7"/><ellipse class="o" cx="390.3" cy="526.4" rx="3.4" ry="2.4"/>
<path class="w" d="M453.4,490 L458.3,498.3 L463.7,506.4 C466,507.2 469,504 471.8,494.2 L473.2,488 Z"/>
<circle class="o" cx="464.2" cy="503.4" r="1.4"/>
<path class="w" d="M452.8,483.4 L462.3,475.2 L473.2,483.4 L473.2,489.0 L463.7,497.1 L452.8,489.0 Z"/><path class="o" d="M452.8,483.4 L463.7,491.5 L473.2,483.4 M463.7,491.5 L463.7,497.1"/><ellipse class="o" cx="462.9" cy="483" rx="3.2" ry="2.3"/>
<path class="o" d="M451.6,481.6 C449,479 446.4,477.8 446.6,479.6 C446.8,481.6 449.6,482.2 451.6,481.6 Z"/>
<path class="w" d="M517,454 L523.3,463 L527.4,471.2 C531,473 535,472.6 536.9,471.2 C539.5,468.5 540.6,465 540.9,461.7 L539.4,452 Z"/>
<ellipse class="o" cx="533.3" cy="467.1" rx="1.6" ry="2.2" transform="rotate(25 533.3 467.1)"/>
<path class="w" d="M515.3,446 L526.8,437.9 L539.4,444.8 L539.4,452.3 L526.8,460.4 L515.3,453.5 Z"/><path class="o" d="M515.3,446 L526.8,452.9 L539.4,444.8 M526.8,452.9 L526.8,460.4"/><ellipse class="o" cx="529.1" cy="444.3" rx="4" ry="2.9"/>
<ellipse cx="369.1" cy="508.8" rx="3" ry="4" fill="none" stroke="#222" stroke-width="0.8" stroke-dasharray="2 1.4" transform="rotate(25 369.1 508.8)"/>
<path class="d" d="M357.5,439.5 L342.6,494"/>
<path class="l" d="M344.6,509.4 L310.4,538.7"/>
<path class="l" d="M347,508.6 L364,506.6 M372.6,511.4 L388.7,522.6" stroke-dasharray="3 2"/>
</g><g id="partD">
<!-- bracket: base -->
<path class="w" d="M119.5,461 L117.2,468.4 C119,473 122,476.5 125.2,477.7 C128,478.8 131.5,479.4 134.6,479.1 L149.3,469.7 L152,465.7 L135.3,467 L129.2,465.7 Z"/>
<ellipse class="o" cx="124.5" cy="467.7" rx="1.9" ry="2.5" transform="rotate(-20 124.5 467.7)"/>
<!-- back plate with laminated edge -->
<path class="w" d="M119.2,411.4 C123,412.4 126.4,414 129.2,416.1 C133,419 136,422.6 138.6,426.8 C141.4,431 143.4,435 145.3,438.9 C147.6,443 150,447 152,450.9 L154,459 L152,465.7 L145.3,466 L144.7,449.6 L100.4,424.1 L97.1,424.8 L113.8,414.1 Z"/>
<path class="h" d="M113.8,414.1 C118,415 122,416.6 125.2,418.8 C129,421.6 132,425.2 134.6,429.5 C137.4,434 139.4,437.8 141.3,441.6 C142.6,444.4 143.8,447 144.7,449.6 M115.2,413.4 C119.4,414.4 123.2,416 126.3,418.1 C130,420.9 133,424.5 135.6,428.8 C138.4,433.2 140.4,437 142.3,440.8 C143.8,443.8 145.4,447 146.6,450 L147.2,465.6 M116.6,412.7 C120.6,413.7 124.4,415.3 127.4,417.4 C131,420.2 134,423.8 136.6,428.1 C139.4,432.4 141.4,436.2 143.3,440 C145,443.4 147,447 148.4,450.3 L149.2,465.8 M117.9,412 C121.8,413 125.4,414.6 128.3,416.7 C132,419.6 135,423.2 137.6,427.5 C140.4,431.8 142.4,435.6 144.3,439.4 C146.4,443.2 148.6,447 150.2,450.6 L151.4,459.4 L150.6,465.8"/>
<circle class="o" cx="122.5" cy="424.1" r="2"/>
<!-- front bar + left end channel -->
<path class="w" d="M96.4,425.5 L100.4,424.1 L144.7,449.6 L129.9,446.2 L129.2,465.7 C128.6,461 127,458.5 125.2,456.3 C122.5,449.5 118.5,443.5 113.2,438.9 L103.8,433.5 L103.1,441.6 L99.7,442.9 L95.7,441.6 L94.4,432.2 Z"/>
<path class="o" d="M96.4,425.5 L129.9,446.2 M99.7,431.5 L99.1,440.2 L103.1,441.6 M99.7,431.5 L103.8,433.5 M99.1,440.2 L95.7,441.6 M112,441.4 C117,445.6 121,451.6 123.4,458.4 C124.4,461 124.6,463 124.4,464.6"/>
<!-- right block -->
<path class="w" d="M129.9,446.2 L135.3,448.3 L145.3,450.3 L148,464.3 L136.6,467 L135.3,467 L129.2,465.7 Z"/>
<path class="o" d="M135.3,448.3 L135.3,467 M136.9,449.4 L137,466.8"/>
<path class="o" d="M136.8,453.4 C137.6,451.4 140.4,450.8 141.3,452 L142,462 C141.4,463.6 138.4,464.2 137.3,463 Z M137.6,458.6 L141.6,459.6"/>
<!-- bolt left -->
<use href="#boltf" transform="translate(54.6,430.2) rotate(-28.8)"/>
<!-- bushing left -->
<path class="w" d="M84.2,402.6 L93.6,397.4 C96.6,397.4 99.4,400.4 99.6,404 L98.6,407.4 L90.6,413.4 Z"/>
<ellipse class="w" cx="87.3" cy="408" rx="4.6" ry="6.4" transform="rotate(-28 87.3 408)"/>
<ellipse class="o" cx="87.7" cy="407.9" rx="2.6" ry="4" transform="rotate(-28 87.7 407.9)"/>
<!-- washer top right -->
<g transform="translate(149.7,408.3) rotate(-28)"><ellipse class="w" cx="0" cy="0" rx="5.4" ry="7.9"/><ellipse class="o" cx="-0.8" cy="-0.4" rx="2.5" ry="3.5"/><ellipse class="o" cx="-0.3" cy="-0.2" rx="3.4" ry="4.8"/></g>
<!-- flanged bushing right -->
<ellipse class="w" cx="166.4" cy="442.4" rx="4.3" ry="7" transform="rotate(-28 166.4 442.4)"/>
<path class="w" d="M157.2,441.4 L162.4,438.6 L167.2,447.6 L162,450.6 Z" stroke="none"/>
<path class="o" d="M157,441.6 L162.2,438.8 M161.8,450.6 L166.4,448"/>
<ellipse class="w" cx="159.2" cy="446.2" rx="3.2" ry="5.1" transform="rotate(-28 159.2 446.2)"/>
<ellipse class="o" cx="159.5" cy="446.1" rx="1.9" ry="3.4" transform="rotate(-28 159.5 446.1)"/>
<!-- bolt right -->
<use href="#boltf" transform="translate(201.2,423.4) rotate(152.5) scale(1,1.05)"/>
<!-- washer + flanged nut bottom -->
<use href="#washer" transform="translate(147.1,488.7) rotate(-28) scale(1.3,1.15)"/>
<ellipse class="w" cx="133" cy="499.8" rx="7.6" ry="6.4" transform="rotate(-25 133 499.8)"/>
<path class="w" d="M126.6,493 L126.8,497.6 Q132,503.8 137.8,498 L137.6,493.4 Q132.4,488 126.6,493 Z"/>
<ellipse class="w" cx="132.2" cy="493.2" rx="5.6" ry="4.4" transform="rotate(-20 132.2 493.2)"/>
<ellipse class="o" cx="132.2" cy="493.2" rx="2.9" ry="2.3" transform="rotate(-20 132.2 493.2)"/>
<path class="h" d="M130,497.6 L130.2,501 M134.6,497 L134.8,500.4"/>
</g>
<g id="misc">
<!-- shims & spacers -->
<use href="#shim" transform="translate(378.3,367)"/>
<use href="#spacer" transform="translate(371.9,391.1)"/>
<use href="#shim" transform="translate(563.2,319)"/>
<use href="#spacer" transform="translate(551,367.2)"/>
<!-- pump bolts -->
<use href="#boltv" transform="translate(416.4,92) rotate(104) scale(0.97,0.76)"/>
<use href="#swv" transform="translate(407.1,131.8) rotate(100) scale(0.95,0.95)"/>
<!-- right long bolt -->
<g transform="translate(703.2,119.4) rotate(104.5)">
 <path class="w" d="M11,-3 L49,-3 A1.3,3 0 0 1 49,3 L11,3 Z"/>
 <path class="h" d="M40,-2.9 A1.3,2.9 0 0 1 40,2.9 M42.4,-2.9 A1.3,2.9 0 0 1 42.4,2.9 M44.8,-2.9 A1.3,2.9 0 0 1 44.8,2.9 M47.2,-2.9 A1.3,2.9 0 0 1 47.2,2.9"/>
 <path class="w" d="M3,-5.4 Q0,-5.2 0,-2.8 L0,2.8 Q0,5.2 3,5.4 L7,5.6 L11,3.6 Q11.6,0 11,-3.6 L7,-5.6 Z"/>
 <path class="h" d="M7,-5.6 Q7.8,-3 7.5,-2 L11.3,-2 M7.5,-2 Q7.8,0 7.5,2.6 L11.2,2.7 M7.5,2.6 Q7.7,4.6 7,5.6"/>
</g>
<use href="#swv" transform="translate(686.5,177.3) rotate(100)"/>
<!-- cover tab fasteners -->
<use href="#wsm" transform="translate(319.8,408) rotate(25)"/>
<use href="#sw" transform="translate(328.8,412.3) rotate(25) scale(0.82)"/>
<use href="#bolts" transform="translate(356.2,426.6) rotate(205)"/>
<!-- cover lower fasteners -->
<use href="#wsm" transform="translate(271.4,458.7) rotate(25) scale(1.15)"/>
<use href="#sw" transform="translate(280.1,463.3) rotate(25) scale(0.9)"/>
<use href="#bolts" transform="translate(304.6,477) rotate(206)"/>
<!-- base left fasteners -->
<use href="#wsm" transform="translate(353.8,566.6) rotate(25)"/>
<use href="#sw" transform="translate(362.5,571.5) rotate(25) scale(0.82)"/>
<use href="#bolts" transform="translate(389.4,584.8) rotate(203)"/>
<!-- L bracket -->
<path class="w" d="M410,557.1 L431.6,544.9 L437,546.3 L468.2,563.9 L468.2,580.1 L464.1,582.8 L433,565.2 L412.7,574.7 L410,573.4 Z"/>
<path class="o" d="M412.7,558.6 L412.7,574.7 M412.7,558.6 L433,547.6 L433,565.2 M433,547.6 L466,565.6 L464.1,582.8 M466,565.6 L468.2,563.9"/>
<ellipse class="o" cx="420.8" cy="562.5" rx="1.8" ry="2.6" transform="rotate(20 420.8 562.5)"/>
<ellipse class="o" cx="460.1" cy="572" rx="1.8" ry="2.6" transform="rotate(20 460.1 572)"/>
<!-- L bracket bolt -->
<use href="#sw" transform="translate(474.4,592.9) rotate(28) scale(1.1)"/>
<use href="#boltf" transform="translate(510.6,613) rotate(208.8) scale(0.95,1)"/>
<!-- long bolt bottom right -->
<use href="#sw" transform="translate(493.5,535.4) rotate(28) scale(1.15)"/>
<g transform="translate(573.6,582.6) rotate(209.4)">
 <path class="w" d="M9,-3.3 L77,-3.3 A1.4,3.3 0 0 1 77,3.3 L9,3.3 Z"/>
 <path class="h" d="M67,-3.2 A1.4,3.2 0 0 1 67,3.2 M69.5,-3.2 A1.4,3.2 0 0 1 69.5,3.2 M72,-3.2 A1.4,3.2 0 0 1 72,3.2 M74.5,-3.2 A1.4,3.2 0 0 1 74.5,3.2"/>
 <path class="w" d="M3,-7 L8,-7.2 L10.6,-4.2 L10.8,0 L10.6,4.2 L8,7.2 L3,7 L-1.4,3.6 L-1.6,-3.4 Z"/>
 <path class="h" d="M3,-7 L5.6,-3.6 L5.8,3.6 L3,7 M5.6,-3.6 L10.6,-4.2 M5.8,3.6 L10.6,4.2"/>
</g>
</g>
<!-- text -->
<text class="t" x="427.7" y="86.8">108 ± 5.4 N·m</text>
<text class="t" x="427.4" y="102.9">{11.0 ± 0.55 kgf·m}</text>
<text class="t" x="18.4" y="331.8">M14 × 1.5</text>
<text class="t" x="18.4" y="348">118 ± 5 N·m{12 ± 0.5 kgf·m}</text>
<text class="t" x="18.4" y="364.2">M12 × 1.25 (螺栓识别记号10)</text>
<text class="t" x="18.4" y="380.3">108 ± 5 N·m{11 ± 0.5 kgf·m}</text>
<text class="t" x="543" y="532.6">108 ± 5.4 N·m</text>
<text class="t" x="542.6" y="549">{11.0 ± 0.55 kgf·m}</text>
<text class="t" x="292.4" y="599.7">108 ± 5.4 N·m</text>
<text class="t" x="291.6" y="615.6">{11.0 ± 0.55 kgf·m}</text>
</svg>
</body></html>
